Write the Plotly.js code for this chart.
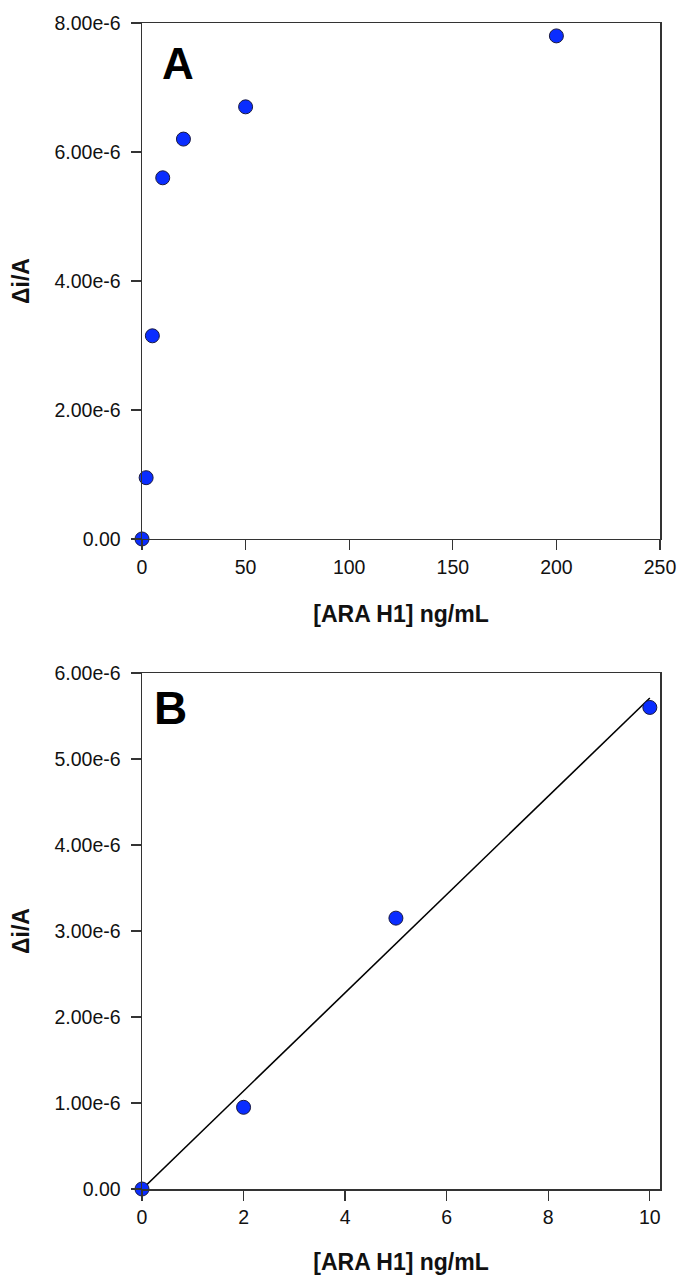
<!DOCTYPE html>
<html>
<head>
<meta charset="utf-8">
<script src="https://cdn.plot.ly/plotly-3.0.1.min.js"></script>
<style>html,body{margin:0;padding:0;background:#fff}#chart{width:678px;height:1275px}</style>
</head>
<body>
<div id="chart"></div>
<script>
// Panel A data
const concA = [0, 2, 5, 10, 20, 50, 200];
const respA = [0, 0.95e-6, 3.15e-6, 5.6e-6, 6.2e-6, 6.7e-6, 7.8e-6];
// Panel B data (linear range)
const concB = [0, 2, 5, 10];
const respB = [0, 0.95e-6, 3.15e-6, 5.6e-6];

const yTickValsA = [0, 2e-6, 4e-6, 6e-6, 8e-6];
const yTickTextA = ["0.00", "2.00e-6", "4.00e-6", "6.00e-6", "8.00e-6"];
const yTickValsB = [0, 1e-6, 2e-6, 3e-6, 4e-6, 5e-6, 6e-6];
const yTickTextB = ["0.00", "1.00e-6", "2.00e-6", "3.00e-6", "4.00e-6", "5.00e-6", "6.00e-6"];
const xTickValsA = [0, 50, 100, 150, 200, 250];
const xTickValsB = [0, 2, 4, 6, 8, 10];

// least-squares fit for panel B
const n = concB.length;
const mx = concB.reduce((a,b)=>a+b,0)/n, my = respB.reduce((a,b)=>a+b,0)/n;
let sxy=0, sxx=0;
for (let i=0;i<n;i++){ sxy+=(concB[i]-mx)*(respB[i]-my); sxx+=(concB[i]-mx)**2; }
const slope = sxy/sxx, icpt = my - slope*mx;
const fitX = [concB[0], concB[n-1]];
const fitY = fitX.map(x => icpt + slope*x);

const FONT = "Liberation Sans, Arial, sans-serif";
const marker = {size: 14, color: "#0a2dff", line: {color: "#1a1a40", width: 1}};

const traces = [
  {x: concA, y: respA, mode: "markers", type: "scatter", marker: marker, xaxis: "x", yaxis: "y", cliponaxis: false},
  {x: fitX, y: fitY, mode: "lines", type: "scatter", line: {color: "#000", width: 1.6}, xaxis: "x2", yaxis: "y2", cliponaxis: false},
  {x: concB, y: respB, mode: "markers", type: "scatter", marker: marker, xaxis: "x2", yaxis: "y2", cliponaxis: false}
];

const axBase = {
  showgrid: false, zeroline: false, showline: true, mirror: true,
  linecolor: "#333", linewidth: 1.5, ticks: "outside", ticklen: 10, tickwidth: 1.3, tickcolor: "#333",
  tickfont: {family: FONT, size: 19.5, color: "#111"}, fixedrange: true
};
const titleFont = {family: FONT, size: 23, color: "#111"};

const layout = {
  width: 678, height: 1275,
  margin: {l: 142, r: 18, t: 23, b: 86},
  paper_bgcolor: "#fff", plot_bgcolor: "#fff",
  showlegend: false,
  font: {family: FONT},
  xaxis: Object.assign({}, axBase, {domain: [0,1], range: [0, 250], tickvals: xTickValsA, anchor: "y",
    title: {text: "<b>[ARA H1] ng/mL</b>", font: titleFont, standoff: 29}}),
  yaxis: Object.assign({}, axBase, {domain: [0.5575, 1], range: [0, 8e-6], tickvals: yTickValsA, ticktext: yTickTextA, anchor: "x",
    ticklabelstandoff: 6,
    title: {text: "<b>Δi/A</b>", font: titleFont, standoff: 18}}),
  xaxis2: Object.assign({}, axBase, {domain: [0,1], range: [0, 10.2], tickvals: xTickValsB, anchor: "y2",
    title: {text: "<b>[ARA H1] ng/mL</b>", font: titleFont, standoff: 29}}),
  yaxis2: Object.assign({}, axBase, {domain: [0, 0.4425], range: [0, 6e-6], tickvals: yTickValsB, ticktext: yTickTextB, anchor: "x2",
    ticklabelstandoff: 6,
    title: {text: "<b>Δi/A</b>", font: titleFont, standoff: 18}}),
  annotations: [
    {text: "<b>A</b>", xref: "x domain", yref: "y domain", x: 0.035, y: 0.973, xanchor: "left", yanchor: "top", showarrow: false, font: {family: FONT, size: 44, color: "#000"}},
    {text: "<b>B</b>", xref: "x2 domain", yref: "y2 domain", x: 0.02, y: 0.986, xanchor: "left", yanchor: "top", showarrow: false, font: {family: FONT, size: 46, color: "#000"}}
  ]
};

Plotly.newPlot("chart", traces, layout, {displayModeBar: false, staticPlot: true});
</script>
</body>
</html>
